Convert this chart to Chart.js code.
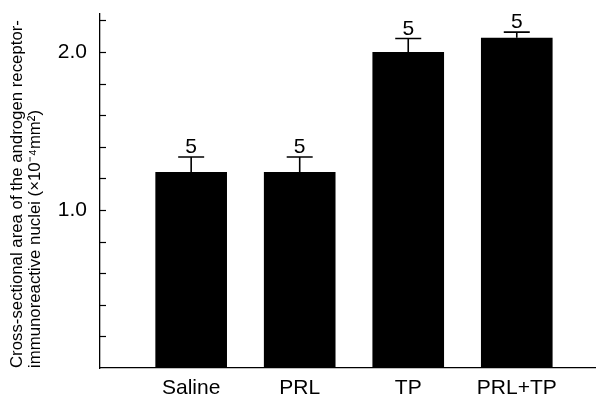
<!DOCTYPE html>
<html>
<head>
<meta charset="utf-8">
<script src="https://cdn.jsdelivr.net/npm/chart.js@4.4.1/dist/chart.umd.min.js"></script>
<style>
  html, body { margin: 0; padding: 0; background: #fff; }
  #wrap { width: 596px; height: 398px; }
</style>
</head>
<body>
<div id="wrap"><canvas id="chart"></canvas></div>
<script>
// 数据
const categories = ['Saline', 'PRL', 'TP', 'PRL+TP'];
const areaMeans = [1.24, 1.24, 2.0, 2.09];
const areaErrors = [0.095, 0.095, 0.085, 0.035];
const sampleSizes = [5, 5, 5, 5];
const yTickLabels = ['1.0', '2.0'];
const yTitle = ['Cross-sectional area of the androgen receptor-', 'immunoreactive nuclei (×10⁻⁴mm²)'];

const FONT = "'Liberation Sans', Arial, Helvetica, sans-serif";
const INK = '#000';

// 误差线 + n 标注
const errorBarPlugin = {
  id: 'errorBars',
  afterDatasetsDraw(chart) {
    const { ctx, scales: { y } } = chart;
    const meta = chart.getDatasetMeta(0);
    ctx.save();
    ctx.strokeStyle = INK;
    ctx.lineWidth = 1.6;
    ctx.fillStyle = INK;
    ctx.font = '21px ' + FONT;
    ctx.textAlign = 'center';
    ctx.textBaseline = 'bottom';
    meta.data.forEach((bar, i) => {
      const top = y.getPixelForValue(areaMeans[i]);
      const cap = y.getPixelForValue(areaMeans[i] + areaErrors[i]);
      ctx.beginPath();
      ctx.moveTo(bar.x, top);
      ctx.lineTo(bar.x, cap);
      ctx.moveTo(bar.x - 13, cap);
      ctx.lineTo(bar.x + 13, cap);
      ctx.stroke();
      ctx.fillText(String(sampleSizes[i]), bar.x, cap + 1);
    });
    ctx.restore();
  }
};

// 向内的刻度线
const innerTicksPlugin = {
  id: 'innerTicks',
  afterDraw(chart) {
    const { ctx, scales: { y }, chartArea } = chart;
    ctx.save();
    ctx.strokeStyle = INK;
    ctx.lineWidth = 1.2;
    y.ticks.forEach(t => {
      if (t.value <= 0) return;
      const py = Math.round(y.getPixelForValue(t.value)) + 0.5;
      ctx.beginPath();
      ctx.moveTo(chartArea.left, py);
      ctx.lineTo(chartArea.left + 6, py);
      ctx.stroke();
    });
    ctx.restore();
  }
};

new Chart(document.getElementById('chart'), {
  type: 'bar',
  data: {
    datasets: [{
      data: areaMeans.map((v, i) => ({ x: i, y: v })),
      backgroundColor: INK,
      borderWidth: 0,
      categoryPercentage: 1,
      barPercentage: 0.66
    }]
  },
  options: {
    responsive: true,
    maintainAspectRatio: false,
    animation: false,
    layout: { padding: { top: 14, right: 0, left: 0, bottom: 0 } },
    plugins: {
      legend: { display: false },
      tooltip: { enabled: false }
    },
    scales: {
      x: {
        type: 'linear',
        min: -0.84,
        max: 3.73,
        bounds: 'data',
        offset: false,
        afterBuildTicks(scale) {
          scale.ticks = categories.map((_, i) => ({ value: i }));
        },
        afterFit(scale) { scale.height = 30; },
        grid: { display: true, drawOnChartArea: false, drawTicks: false, offset: false },
        border: { display: true, color: INK, width: 1.3 },
        ticks: {
          autoSkip: false,
          maxRotation: 0,
          padding: 8,
          color: INK,
          font: { family: FONT, size: 21 },
          callback: v => categories[v] ?? ''
        }
      },
      y: {
        min: 0,
        max: 2.24,
        afterFit(scale) {
          scale.width = 100;
          scale.paddingTop = 0;
          scale.paddingBottom = 0;
        },
        grid: { display: true, drawOnChartArea: false, drawTicks: false },
        border: { display: true, color: INK, width: 1.3 },
        ticks: {
          stepSize: 0.2,
          includeBounds: false,
          autoSkip: false,
          padding: 13,
          color: INK,
          font: { family: FONT, size: 21 },
          callback: v => yTickLabels.find(s => Math.abs(parseFloat(s) - v) < 1e-6) ?? ''
        },
        title: {
          display: true,
          text: yTitle,
          align: 'start',
          color: INK,
          font: { family: FONT, size: 16.8, lineHeight: 1.05 },
          padding: { top: 9, bottom: 0 }
        }
      }
    }
  },
  plugins: [errorBarPlugin, innerTicksPlugin]
});
</script>
</body>
</html>
